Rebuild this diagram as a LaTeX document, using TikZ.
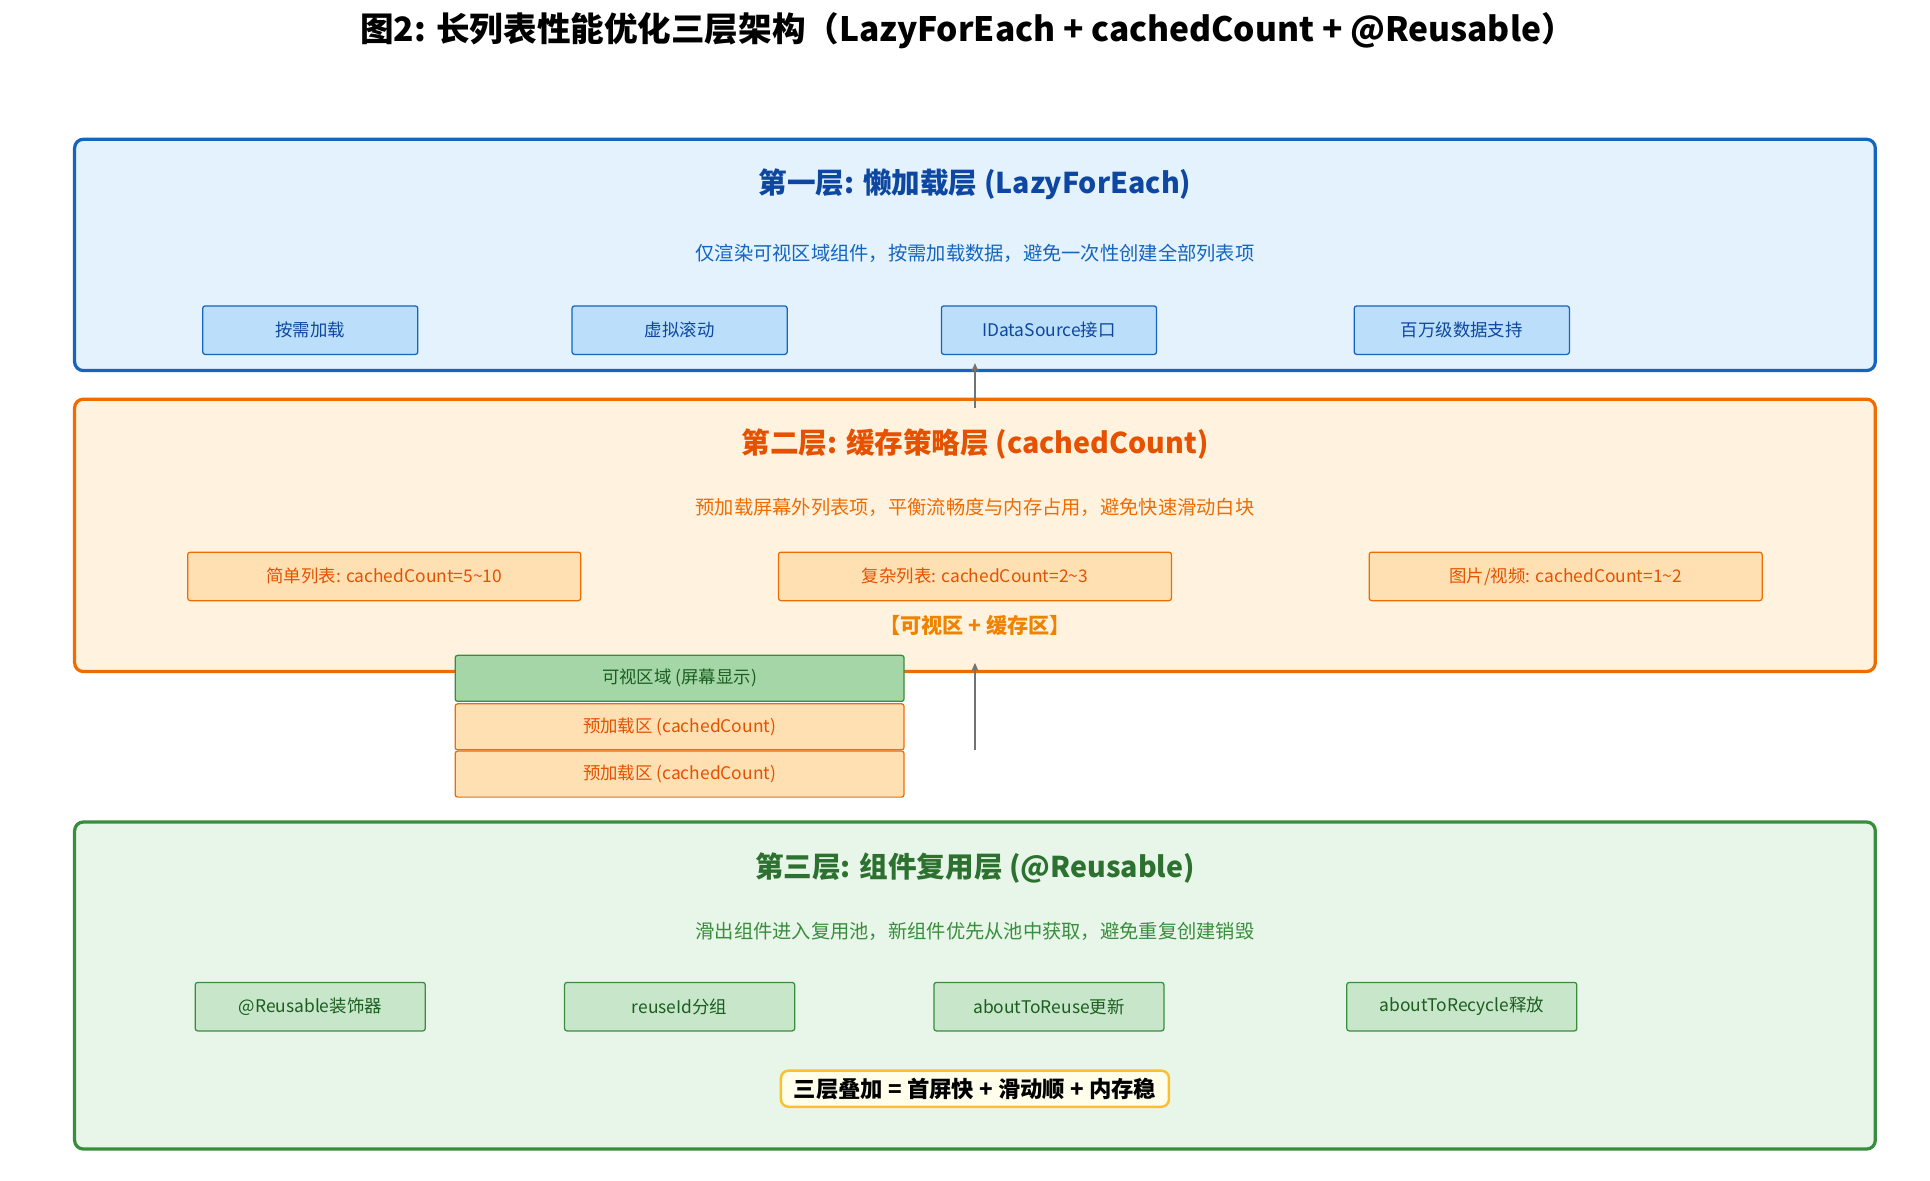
\documentclass[tikz,border=0pt]{standalone}
\usepackage{fontspec}
\setmainfont{Noto Sans CJK SC}
\usetikzlibrary{arrows.meta}
\definecolor{bluedark}{HTML}{0D47A1}\definecolor{blueline}{HTML}{1565C0}
\definecolor{bluebg}{HTML}{E3F2FD}\definecolor{bluebox}{HTML}{BBDEFB}
\definecolor{orgdark}{HTML}{E65100}\definecolor{orgline}{HTML}{EF6C00}
\definecolor{orgbg}{HTML}{FFF3E0}\definecolor{orgbox}{HTML}{FFE0B2}
\definecolor{grndark}{HTML}{1B5E20}\definecolor{grnline}{HTML}{388E3C}
\definecolor{grnbg}{HTML}{E8F5E9}\definecolor{grnbox}{HTML}{C8E6C9}
\definecolor{grnvis}{HTML}{A5D6A7}\definecolor{yelline}{HTML}{FBC02D}
\tikzset{
  layer/.style={line width=2.6pt, rounded corners=7pt},
  item/.style={draw, line width=1pt, rounded corners=2pt, minimum height=39pt, font=\fontsize{14}{16}\selectfont, inner sep=0pt},
  ltitle/.style={font=\fontsize{23}{26}\selectfont\bfseries},
  lsub/.style={font=\fontsize{15.5}{18}\selectfont},
  flow/.style={-{Stealth[length=7pt,width=6pt]}, line width=2pt, gray!90!black}
}
\begin{document}
\begin{tikzpicture}[x=1pt,y=-1pt]
    \useasboundingbox (0,0) rectangle (1552,949);
    \node[font=\fontsize{27}{30}\selectfont\bfseries] (title) at (778,25) {图2: 长列表性能优化三层架构（LazyForEach + cachedCount + @Reusable）};

    % layer 1
    \draw[layer, draw=blueline, fill=bluebg] (60,112) rectangle (1508,298);
    \node[ltitle, text=bluedark] (t1) at (784,148) {第一层: 懒加载层 (LazyForEach)};
    \node[lsub, text=blueline] (s1) at (784,204) {仅渲染可视区域组件，按需加载数据，避免一次性创建全部列表项};
    \node[item, draw=blueline, fill=bluebox, text=bluedark, minimum width=173pt] (a1) at (249.5,265.5) {按需加载};
    \node[item, draw=blueline, fill=bluebox, text=bluedark, minimum width=173pt] (a2) at (546.5,265.5) {虚拟滚动};
    \node[item, draw=blueline, fill=bluebox, text=bluedark, minimum width=173pt] (a3) at (843.5,265.5) {IDataSource接口};
    \node[item, draw=blueline, fill=bluebox, text=bluedark, minimum width=173pt] (a4) at (1175.5,265.5) {百万级数据支持};

    % layer 2
    \draw[layer, draw=orgline, fill=orgbg] (60,321) rectangle (1508,540);
    \node[ltitle, text=orgdark] (t2) at (784,357) {第二层: 缓存策略层 (cachedCount)};
    \node[lsub, text=orgline] (s2) at (784,408) {预加载屏幕外列表项，平衡流畅度与内存占用，避免快速滑动白块};
    \node[item, draw=orgline, fill=orgbox, text=orgdark, minimum width=316pt] (b1) at (309,463.5) {简单列表: cachedCount=5\textasciitilde10};
    \node[item, draw=orgline, fill=orgbox, text=orgdark, minimum width=316pt] (b2) at (784,463.5) {复杂列表: cachedCount=2\textasciitilde3};
    \node[item, draw=orgline, fill=orgbox, text=orgdark, minimum width=316pt] (b3) at (1259,463.5) {图片/视频: cachedCount=1\textasciitilde2};
    \node[font=\fontsize{17}{19}\selectfont\bfseries, text=orgline!85!yellow] (zone) at (784,503) {【可视区 + 缓存区】};

    % visible + cache stack
    \node[item, draw=grnline, fill=grnvis, text=grndark, minimum width=361pt, minimum height=37pt] (vis) at (546.5,545.5) {可视区域 (屏幕显示)};
    \node[item, draw=orgline, fill=orgbox, text=orgdark, minimum width=361pt, minimum height=37pt] (pre1) at (546.5,584.5) {预加载区 (cachedCount)};
    \node[item, draw=orgline, fill=orgbox, text=orgdark, minimum width=361pt, minimum height=37pt] (pre2) at (546.5,622.5) {预加载区 (cachedCount)};

    % layer 3
    \draw[layer, draw=grnline, fill=grnbg] (60,661) rectangle (1508,924);
    \node[ltitle, text=grnline!80!black] (t3) at (784,698) {第三层: 组件复用层 (@Reusable)};
    \node[lsub, text=grnline] (s3) at (784,749) {滑出组件进入复用池，新组件优先从池中获取，避免重复创建销毁};
    \node[item, draw=grnline, fill=grnbox, text=grndark, minimum width=185pt] (c1) at (249.5,809.5) {@Reusable装饰器};
    \node[item, draw=grnline, fill=grnbox, text=grndark, minimum width=185pt] (c2) at (546.5,809.5) {reuseId分组};
    \node[item, draw=grnline, fill=grnbox, text=grndark, minimum width=185pt] (c3) at (843.5,809.5) {aboutToReuse更新};
    \node[item, draw=grnline, fill=grnbox, text=grndark, minimum width=185pt] (c4) at (1175.5,809.5) {aboutToRecycle释放};
    \node[draw=yelline, line width=2pt, fill=yellow!8, rounded corners=6pt, minimum width=312pt, minimum height=29pt, inner sep=0pt, font=\fontsize{18}{20}\selectfont\bfseries] (sum) at (784,875.5) {三层叠加 = 首屏快 + 滑动顺 + 内存稳};

    % arrows between layers
    \coordinate (up1) at (784,328); \coordinate (up1e) at (784,292);
    \coordinate (up2) at (784,603); \coordinate (up2e) at (784,533);
    \draw[flow] (up1) -- (up1e);
    \draw[flow] (up2) -- (up2e);
\end{tikzpicture}
\end{document}
